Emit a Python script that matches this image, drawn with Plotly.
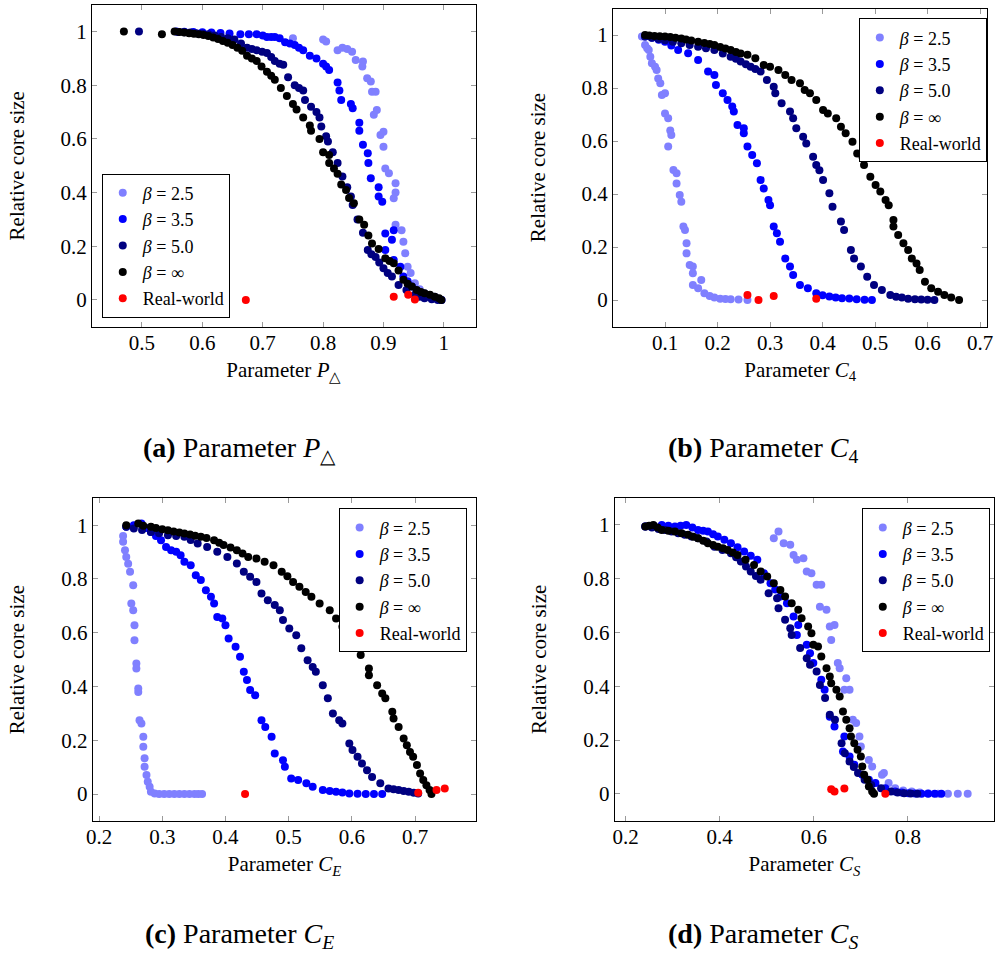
import plotly.graph_objects as go

# ---------------- data ----------------
SERIES = ["β = 2.5", "β = 3.5", "β = 5.0", "β = ∞", "Real-world"]

# Panel (a): parameter P_triangle
A_X_25 = [0.750, 0.800, 0.805, 0.824, 0.832, 0.840, 0.848, 0.854, 0.866, 0.865, 0.873, 0.879, 0.881, 0.887, 0.889, 0.884, 0.900, 0.895, 0.900, 0.903, 0.909, 0.920, 0.920, 0.917, 0.920, 0.930, 0.933, 0.936, 0.940, 0.945, 0.952, 0.960, 0.968, 0.976, 0.985, 0.996]
A_Y_25 = [0.975, 0.970, 0.963, 0.930, 0.940, 0.935, 0.925, 0.894, 0.888, 0.870, 0.826, 0.814, 0.776, 0.776, 0.708, 0.690, 0.627, 0.615, 0.571, 0.490, 0.472, 0.435, 0.400, 0.379, 0.280, 0.260, 0.217, 0.174, 0.124, 0.100, 0.062, 0.040, 0.025, 0.018, 0.012, 0.000]
A_X_35 = [0.557, 0.570, 0.585, 0.600, 0.615, 0.630, 0.645, 0.663, 0.677, 0.690, 0.700, 0.707, 0.714, 0.720, 0.728, 0.737, 0.745, 0.753, 0.760, 0.767, 0.778, 0.789, 0.800, 0.805, 0.810, 0.824, 0.827, 0.830, 0.846, 0.849, 0.860, 0.860, 0.866, 0.874, 0.875, 0.879, 0.892, 0.892, 0.898, 0.903, 0.917, 0.914, 0.903, 0.917, 0.928, 0.933, 0.940, 0.947, 0.955, 0.963, 0.972, 0.979, 0.988, 0.996]
A_Y_35 = [1.000, 0.999, 0.998, 0.997, 0.996, 0.995, 0.993, 0.990, 0.990, 0.990, 0.985, 0.980, 0.980, 0.980, 0.975, 0.960, 0.955, 0.950, 0.940, 0.930, 0.910, 0.900, 0.880, 0.870, 0.857, 0.810, 0.780, 0.745, 0.730, 0.714, 0.660, 0.630, 0.578, 0.547, 0.510, 0.453, 0.420, 0.385, 0.366, 0.248, 0.260, 0.224, 0.186, 0.149, 0.124, 0.087, 0.070, 0.050, 0.035, 0.025, 0.018, 0.012, 0.005, 0.000]
A_X_50 = [0.495, 0.560, 0.570, 0.580, 0.590, 0.600, 0.610, 0.620, 0.631, 0.642, 0.653, 0.664, 0.674, 0.682, 0.690, 0.699, 0.707, 0.714, 0.720, 0.728, 0.734, 0.742, 0.753, 0.760, 0.767, 0.770, 0.780, 0.789, 0.794, 0.797, 0.805, 0.808, 0.816, 0.824, 0.832, 0.840, 0.846, 0.849, 0.857, 0.866, 0.874, 0.880, 0.887, 0.893, 0.900, 0.907, 0.914, 0.925, 0.938, 0.952, 0.960, 0.968, 0.980, 0.990]
A_Y_50 = [1.000, 0.998, 0.997, 0.996, 0.994, 0.992, 0.990, 0.985, 0.980, 0.975, 0.970, 0.955, 0.940, 0.935, 0.930, 0.925, 0.920, 0.905, 0.890, 0.880, 0.876, 0.830, 0.800, 0.790, 0.780, 0.745, 0.720, 0.700, 0.680, 0.646, 0.610, 0.590, 0.550, 0.510, 0.460, 0.420, 0.385, 0.354, 0.300, 0.250, 0.186, 0.170, 0.160, 0.140, 0.118, 0.100, 0.087, 0.056, 0.037, 0.019, 0.012, 0.006, 0.003, 0.000]
A_X_INF = [0.470, 0.533, 0.554, 0.562, 0.570, 0.578, 0.586, 0.594, 0.602, 0.610, 0.618, 0.626, 0.634, 0.642, 0.650, 0.658, 0.666, 0.674, 0.682, 0.690, 0.698, 0.707, 0.714, 0.720, 0.730, 0.740, 0.750, 0.756, 0.767, 0.778, 0.780, 0.794, 0.800, 0.810, 0.810, 0.818, 0.824, 0.830, 0.838, 0.843, 0.851, 0.860, 0.868, 0.875, 0.881, 0.892, 0.903, 0.910, 0.917, 0.925, 0.933, 0.940, 0.947, 0.955, 0.962, 0.968, 0.977, 0.985, 0.992, 0.996]
A_Y_INF = [1.000, 0.990, 1.000, 0.998, 0.996, 0.994, 0.992, 0.990, 0.987, 0.983, 0.978, 0.972, 0.965, 0.958, 0.950, 0.940, 0.928, 0.910, 0.900, 0.890, 0.870, 0.850, 0.835, 0.820, 0.790, 0.760, 0.730, 0.710, 0.680, 0.650, 0.630, 0.600, 0.550, 0.540, 0.510, 0.490, 0.470, 0.430, 0.410, 0.380, 0.360, 0.300, 0.280, 0.240, 0.210, 0.190, 0.155, 0.145, 0.137, 0.110, 0.075, 0.060, 0.050, 0.037, 0.030, 0.025, 0.019, 0.012, 0.006, 0.000]
A_X_REAL = [0.672, 0.917, 0.941, 0.952]
A_Y_REAL = [0.000, 0.012, 0.019, 0.002]

# Panel (b): parameter C_4
B_X_25 = [0.056, 0.062, 0.066, 0.069, 0.072, 0.075, 0.081, 0.084, 0.087, 0.091, 0.094, 0.100, 0.100, 0.106, 0.112, 0.110, 0.106, 0.116, 0.122, 0.122, 0.128, 0.131, 0.135, 0.138, 0.141, 0.141, 0.147, 0.153, 0.153, 0.169, 0.153, 0.163, 0.175, 0.185, 0.194, 0.205, 0.215, 0.225, 0.240, 0.257]
B_Y_25 = [0.994, 0.962, 0.950, 0.943, 0.918, 0.893, 0.880, 0.868, 0.836, 0.818, 0.774, 0.780, 0.704, 0.686, 0.623, 0.640, 0.579, 0.491, 0.478, 0.440, 0.396, 0.371, 0.277, 0.264, 0.214, 0.176, 0.132, 0.126, 0.101, 0.075, 0.057, 0.044, 0.025, 0.015, 0.009, 0.005, 0.004, 0.003, 0.002, 0.000]
B_X_35 = [0.062, 0.075, 0.088, 0.100, 0.112, 0.125, 0.144, 0.163, 0.182, 0.194, 0.197, 0.210, 0.219, 0.228, 0.231, 0.238, 0.250, 0.250, 0.257, 0.266, 0.275, 0.282, 0.288, 0.297, 0.300, 0.307, 0.313, 0.319, 0.329, 0.338, 0.344, 0.357, 0.372, 0.388, 0.400, 0.413, 0.425, 0.437, 0.451, 0.465, 0.480, 0.494]
B_Y_35 = [0.994, 0.990, 0.982, 0.975, 0.960, 0.943, 0.931, 0.906, 0.862, 0.849, 0.811, 0.780, 0.755, 0.730, 0.711, 0.660, 0.648, 0.629, 0.579, 0.547, 0.516, 0.453, 0.421, 0.377, 0.358, 0.277, 0.252, 0.220, 0.157, 0.126, 0.094, 0.057, 0.044, 0.025, 0.018, 0.013, 0.009, 0.007, 0.006, 0.003, 0.001, 0.000]
B_X_50 = [0.062, 0.075, 0.088, 0.100, 0.115, 0.131, 0.147, 0.163, 0.178, 0.194, 0.210, 0.225, 0.235, 0.244, 0.254, 0.263, 0.272, 0.282, 0.294, 0.307, 0.310, 0.322, 0.338, 0.344, 0.350, 0.363, 0.369, 0.382, 0.388, 0.394, 0.401, 0.413, 0.419, 0.435, 0.441, 0.454, 0.460, 0.473, 0.485, 0.498, 0.513, 0.529, 0.540, 0.551, 0.563, 0.576, 0.588, 0.600, 0.613]
B_Y_50 = [0.994, 0.990, 0.985, 0.980, 0.975, 0.969, 0.962, 0.956, 0.950, 0.943, 0.930, 0.918, 0.910, 0.900, 0.890, 0.880, 0.872, 0.862, 0.830, 0.805, 0.780, 0.742, 0.711, 0.686, 0.648, 0.616, 0.591, 0.541, 0.509, 0.490, 0.453, 0.403, 0.352, 0.296, 0.264, 0.189, 0.157, 0.126, 0.088, 0.057, 0.038, 0.019, 0.012, 0.009, 0.005, 0.003, 0.002, 0.001, 0.000]
B_X_INF = [0.062, 0.070, 0.080, 0.090, 0.100, 0.110, 0.120, 0.131, 0.140, 0.150, 0.163, 0.175, 0.185, 0.194, 0.205, 0.215, 0.225, 0.235, 0.244, 0.257, 0.272, 0.288, 0.300, 0.316, 0.329, 0.341, 0.357, 0.366, 0.376, 0.388, 0.401, 0.410, 0.426, 0.435, 0.444, 0.457, 0.466, 0.476, 0.479, 0.491, 0.501, 0.510, 0.520, 0.526, 0.535, 0.535, 0.544, 0.554, 0.563, 0.570, 0.579, 0.585, 0.595, 0.607, 0.620, 0.632, 0.645, 0.660]
B_Y_INF = [1.000, 0.998, 0.996, 0.995, 0.994, 0.992, 0.990, 0.987, 0.983, 0.979, 0.975, 0.970, 0.966, 0.962, 0.955, 0.949, 0.943, 0.936, 0.930, 0.925, 0.912, 0.887, 0.880, 0.868, 0.849, 0.830, 0.818, 0.792, 0.780, 0.755, 0.717, 0.704, 0.686, 0.654, 0.629, 0.597, 0.553, 0.541, 0.509, 0.465, 0.434, 0.409, 0.377, 0.358, 0.302, 0.277, 0.245, 0.214, 0.189, 0.157, 0.138, 0.113, 0.069, 0.044, 0.031, 0.019, 0.009, 0.000]
B_X_REAL = [0.257, 0.278, 0.307, 0.388]
B_Y_REAL = [0.019, 0.000, 0.015, 0.005]

# Panel (c): parameter C_E
C_X_25 = [0.238, 0.238, 0.241, 0.243, 0.246, 0.249, 0.254, 0.251, 0.254, 0.256, 0.256, 0.259, 0.259, 0.262, 0.262, 0.264, 0.267, 0.270, 0.270, 0.272, 0.272, 0.275, 0.277, 0.280, 0.282, 0.288, 0.295, 0.303, 0.311, 0.319, 0.327, 0.335, 0.343, 0.351, 0.357, 0.363]
C_Y_25 = [0.960, 0.938, 0.907, 0.882, 0.857, 0.827, 0.777, 0.709, 0.684, 0.628, 0.572, 0.486, 0.467, 0.393, 0.380, 0.275, 0.263, 0.213, 0.176, 0.133, 0.102, 0.071, 0.046, 0.027, 0.009, 0.002, 0.000, 0.000, 0.000, 0.000, 0.000, 0.000, 0.000, 0.000, 0.000, 0.000]
C_X_35 = [0.243, 0.255, 0.267, 0.275, 0.282, 0.290, 0.298, 0.306, 0.314, 0.322, 0.329, 0.335, 0.345, 0.353, 0.361, 0.369, 0.377, 0.382, 0.387, 0.395, 0.400, 0.405, 0.416, 0.423, 0.429, 0.434, 0.439, 0.447, 0.457, 0.463, 0.473, 0.478, 0.491, 0.494, 0.504, 0.515, 0.528, 0.538, 0.554, 0.565, 0.575, 0.585, 0.596, 0.609, 0.622, 0.635, 0.648]
C_Y_35 = [0.994, 1.000, 1.006, 0.990, 0.975, 0.960, 0.944, 0.919, 0.907, 0.901, 0.888, 0.864, 0.851, 0.814, 0.796, 0.758, 0.734, 0.709, 0.659, 0.653, 0.628, 0.579, 0.548, 0.511, 0.455, 0.424, 0.387, 0.368, 0.275, 0.250, 0.213, 0.151, 0.126, 0.102, 0.058, 0.052, 0.040, 0.027, 0.015, 0.012, 0.009, 0.006, 0.002, 0.001, 0.000, 0.000, 0.000]
C_X_50 = [0.243, 0.255, 0.268, 0.282, 0.295, 0.309, 0.322, 0.335, 0.345, 0.356, 0.371, 0.387, 0.403, 0.418, 0.429, 0.439, 0.449, 0.457, 0.467, 0.478, 0.486, 0.491, 0.501, 0.512, 0.520, 0.530, 0.538, 0.543, 0.554, 0.562, 0.570, 0.580, 0.585, 0.596, 0.601, 0.609, 0.616, 0.624, 0.632, 0.645, 0.658, 0.666, 0.674, 0.682, 0.690, 0.698, 0.705]
C_Y_50 = [0.994, 0.988, 0.982, 0.975, 0.970, 0.963, 0.960, 0.957, 0.945, 0.932, 0.919, 0.901, 0.882, 0.858, 0.827, 0.808, 0.789, 0.746, 0.721, 0.703, 0.684, 0.647, 0.616, 0.591, 0.542, 0.498, 0.473, 0.455, 0.405, 0.356, 0.300, 0.275, 0.263, 0.188, 0.164, 0.139, 0.114, 0.089, 0.064, 0.040, 0.021, 0.018, 0.015, 0.012, 0.009, 0.005, 0.002]
C_X_INF = [0.243, 0.262, 0.270, 0.282, 0.290, 0.300, 0.309, 0.318, 0.327, 0.335, 0.344, 0.352, 0.361, 0.370, 0.382, 0.390, 0.397, 0.408, 0.418, 0.427, 0.436, 0.449, 0.462, 0.476, 0.489, 0.498, 0.507, 0.517, 0.527, 0.536, 0.549, 0.565, 0.575, 0.585, 0.595, 0.601, 0.607, 0.614, 0.627, 0.627, 0.640, 0.648, 0.653, 0.664, 0.666, 0.674, 0.682, 0.687, 0.692, 0.697, 0.703, 0.708, 0.713, 0.718, 0.723, 0.726]
C_Y_INF = [1.000, 1.006, 0.998, 0.994, 0.990, 0.985, 0.981, 0.977, 0.973, 0.969, 0.965, 0.961, 0.957, 0.952, 0.944, 0.935, 0.926, 0.917, 0.907, 0.895, 0.882, 0.876, 0.864, 0.851, 0.827, 0.810, 0.789, 0.771, 0.752, 0.734, 0.709, 0.684, 0.653, 0.622, 0.590, 0.560, 0.554, 0.517, 0.467, 0.442, 0.405, 0.374, 0.356, 0.306, 0.281, 0.250, 0.207, 0.182, 0.157, 0.139, 0.108, 0.077, 0.052, 0.033, 0.015, 0.000]
C_X_REAL = [0.431, 0.705, 0.734, 0.747]
C_Y_REAL = [0.000, 0.005, 0.015, 0.021]

# Panel (d): parameter C_S
D_X_25 = [0.515, 0.525, 0.536, 0.550, 0.557, 0.564, 0.578, 0.585, 0.595, 0.606, 0.616, 0.613, 0.627, 0.634, 0.644, 0.637, 0.651, 0.655, 0.669, 0.676, 0.665, 0.683, 0.690, 0.697, 0.700, 0.717, 0.724, 0.745, 0.749, 0.759, 0.773, 0.790, 0.808, 0.825, 0.843, 0.864, 0.885, 0.906, 0.927]
D_Y_25 = [0.950, 0.975, 0.932, 0.926, 0.888, 0.870, 0.876, 0.827, 0.820, 0.777, 0.777, 0.696, 0.684, 0.622, 0.628, 0.572, 0.486, 0.467, 0.430, 0.387, 0.387, 0.275, 0.263, 0.213, 0.176, 0.126, 0.102, 0.071, 0.077, 0.040, 0.021, 0.012, 0.009, 0.005, 0.002, 0.000, 0.000, 0.000, 0.000]
D_X_35 = [0.242, 0.260, 0.277, 0.291, 0.305, 0.317, 0.329, 0.342, 0.354, 0.365, 0.375, 0.386, 0.396, 0.410, 0.424, 0.438, 0.452, 0.466, 0.480, 0.494, 0.508, 0.518, 0.529, 0.543, 0.557, 0.567, 0.564, 0.585, 0.592, 0.599, 0.616, 0.623, 0.634, 0.644, 0.665, 0.662, 0.676, 0.686, 0.703, 0.717, 0.731, 0.752, 0.773, 0.787, 0.801, 0.815, 0.829, 0.843, 0.857, 0.871]
D_Y_35 = [0.994, 0.997, 1.000, 0.997, 0.994, 0.997, 1.000, 0.990, 0.981, 0.978, 0.975, 0.965, 0.957, 0.945, 0.932, 0.917, 0.901, 0.885, 0.870, 0.820, 0.783, 0.760, 0.734, 0.709, 0.659, 0.628, 0.591, 0.554, 0.523, 0.486, 0.424, 0.387, 0.287, 0.250, 0.213, 0.157, 0.139, 0.108, 0.071, 0.052, 0.040, 0.021, 0.009, 0.005, 0.002, 0.001, 0.000, 0.000, 0.000, 0.000]
D_X_50 = [0.242, 0.256, 0.270, 0.284, 0.298, 0.312, 0.326, 0.340, 0.354, 0.372, 0.389, 0.406, 0.424, 0.435, 0.445, 0.456, 0.466, 0.477, 0.487, 0.504, 0.522, 0.525, 0.539, 0.550, 0.553, 0.571, 0.585, 0.592, 0.606, 0.613, 0.624, 0.634, 0.645, 0.659, 0.666, 0.676, 0.685, 0.694, 0.708, 0.722, 0.743, 0.764, 0.778, 0.792, 0.806, 0.820]
D_Y_50 = [0.994, 0.990, 0.985, 0.981, 0.975, 0.969, 0.963, 0.957, 0.950, 0.938, 0.919, 0.907, 0.895, 0.880, 0.864, 0.845, 0.827, 0.810, 0.796, 0.746, 0.727, 0.690, 0.647, 0.616, 0.591, 0.542, 0.504, 0.480, 0.455, 0.405, 0.356, 0.294, 0.275, 0.188, 0.151, 0.120, 0.100, 0.077, 0.052, 0.033, 0.021, 0.009, 0.005, 0.002, 0.001, 0.000]
D_X_INF = [0.242, 0.250, 0.259, 0.268, 0.277, 0.291, 0.305, 0.319, 0.333, 0.344, 0.354, 0.365, 0.375, 0.386, 0.396, 0.407, 0.417, 0.428, 0.438, 0.455, 0.473, 0.487, 0.501, 0.515, 0.529, 0.539, 0.553, 0.567, 0.574, 0.588, 0.595, 0.599, 0.609, 0.616, 0.627, 0.634, 0.637, 0.648, 0.655, 0.662, 0.669, 0.676, 0.679, 0.686, 0.693, 0.700, 0.703, 0.707, 0.714, 0.717, 0.724, 0.728]
D_Y_INF = [0.994, 0.997, 1.000, 0.990, 0.981, 0.978, 0.975, 0.969, 0.963, 0.956, 0.950, 0.941, 0.932, 0.925, 0.919, 0.913, 0.907, 0.897, 0.888, 0.870, 0.851, 0.827, 0.808, 0.783, 0.758, 0.734, 0.709, 0.684, 0.653, 0.622, 0.597, 0.554, 0.548, 0.511, 0.467, 0.436, 0.411, 0.387, 0.362, 0.306, 0.275, 0.244, 0.213, 0.188, 0.164, 0.139, 0.102, 0.071, 0.052, 0.027, 0.009, 0.000]
D_X_REAL = [0.637, 0.644, 0.665, 0.752]
D_Y_REAL = [0.017, 0.009, 0.020, 0.000]

# tick labels
A_XTICKS = [0.5, 0.6, 0.7, 0.8, 0.9, 1.0]
A_XTEXT = ["0.5", "0.6", "0.7", "0.8", "0.9", "1"]
B_XTICKS = [0.1, 0.2, 0.3, 0.4, 0.5, 0.6, 0.7]
B_XTEXT = ["0.1", "0.2", "0.3", "0.4", "0.5", "0.6", "0.7"]
C_XTICKS = [0.2, 0.3, 0.4, 0.5, 0.6, 0.7]
C_XTEXT = ["0.2", "0.3", "0.4", "0.5", "0.6", "0.7"]
D_XTICKS = [0.2, 0.4, 0.6, 0.8]
D_XTEXT = ["0.2", "0.4", "0.6", "0.8"]
Y_TICKS = [0, 0.2, 0.4, 0.6, 0.8, 1.0]
Y_TEXT = ["0", "0.2", "0.4", "0.6", "0.8", "1"]

X_TITLES = ["Parameter <i>P</i><sub>△</sub>", "Parameter <i>C</i><sub>4</sub>",
            "Parameter <i>C</i><sub><i>E</i></sub>", "Parameter <i>C</i><sub><i>S</i></sub>"]
CAPTIONS = ["<b>(a)</b> Parameter <i>P</i><sub>△</sub>", "<b>(b)</b> Parameter <i>C</i><sub>4</sub>",
            "<b>(c)</b> Parameter <i>C</i><sub><i>E</i></sub>", "<b>(d)</b> Parameter <i>C</i><sub><i>S</i></sub>"]
Y_TITLE = "Relative core size"

# ---------------- styling ----------------
W, H = 1003, 959
FONT = "Liberation Serif, Times New Roman, serif"
COLORS = ["#8080ff", "#0000ff", "#000080", "#000000", "#ff0000"]
LEGEND_NAMES = ["<i>β</i> = 2.5", "<i>β</i> = 3.5", "<i>β</i> = 5.0", "<i>β</i> = ∞", "Real-world"]

panels = [
    dict(data=[(A_X_25, A_Y_25), (A_X_35, A_Y_35), (A_X_50, A_Y_50), (A_X_INF, A_Y_INF), (A_X_REAL, A_Y_REAL)],
         px=(86, 475), py=(4.7, 326.8), xr=[0.417, 1.053], ticks=(A_XTICKS, A_XTEXT),
         legend=dict(x=96, y=317.5, yanchor="bottom"), cap=(236, 449)),
    dict(data=[(B_X_25, B_Y_25), (B_X_35, B_Y_35), (B_X_50, B_Y_50), (B_X_INF, B_Y_INF), (B_X_REAL, B_Y_REAL)],
         px=(614, 993.3), py=(8.5, 326.5), xr=[0.001, 0.714], ticks=(B_XTICKS, B_XTEXT),
         legend=dict(x=863, y=18.3, yanchor="top"), cap=(766, 449)),
    dict(data=[(C_X_25, C_Y_25), (C_X_35, C_Y_35), (C_X_50, C_Y_50), (C_X_INF, C_Y_INF), (C_X_REAL, C_Y_REAL)],
         px=(86.7, 475.5), py=(498.3, 821), xr=[0.1897, 0.797], ticks=(C_XTICKS, C_XTEXT),
         legend=dict(x=336, y=508.3, yanchor="top"), cap=(236, 935)),
    dict(data=[(D_X_25, D_Y_25), (D_X_35, D_Y_35), (D_X_50, D_Y_50), (D_X_INF, D_Y_INF), (D_X_REAL, D_Y_REAL)],
         px=(615.7, 1000), py=(498, 820.7), xr=[0.177, 0.983], ticks=(D_XTICKS, D_XTEXT),
         legend=dict(x=866, y=508.3, yanchor="top"), cap=(766, 935)),
]

fig = go.Figure()
layout = dict(width=W, height=H, margin=dict(l=0, r=0, t=0, b=0),
              paper_bgcolor="white", plot_bgcolor="white",
              font=dict(family=FONT, size=20, color="black"), annotations=[])

for i, p in enumerate(panels):
    n = "" if i == 0 else str(i + 1)
    lg = "legend" + n
    for k, (xs, ys) in enumerate(p["data"]):
        fig.add_trace(go.Scatter(x=xs, y=ys, mode="markers", name=LEGEND_NAMES[k],
                                 marker=dict(color=COLORS[k], size=8, line=dict(width=0)),
                                 xaxis="x" + n, yaxis="y" + n, legend=lg, hoverinfo="x+y"))
    axcommon = dict(showline=True, linecolor="black", linewidth=1, mirror="ticks",
                    ticks="inside", ticklen=5, tickwidth=1, tickcolor="#9a9a9a",
                    showgrid=False, zeroline=False, tickfont=dict(family=FONT, size=21, color="black"))
    layout["xaxis" + n] = dict(axcommon, domain=[p["px"][0] / W, p["px"][1] / W], range=p["xr"],
                               anchor="y" + n, tickmode="array", tickvals=p["ticks"][0], ticktext=p["ticks"][1],
                               ticklabelstandoff=-3,
                               title=dict(text=X_TITLES[i], font=dict(family=FONT, size=21, color="black"), standoff=8))
    layout["yaxis" + n] = dict(axcommon, domain=[1 - p["py"][1] / H, 1 - p["py"][0] / H], range=[-0.1, 1.1],
                               anchor="x" + n, tickmode="array", tickvals=Y_TICKS, ticktext=Y_TEXT,
                               title=dict(text=Y_TITLE, font=dict(family=FONT, size=21, color="black"), standoff=30))
    L = p["legend"]
    layout[lg] = dict(x=L["x"] / W, y=1 - L["y"] / H, xanchor="left", yanchor=L["yanchor"],
                      xref="paper", yref="paper", bgcolor="white", bordercolor="black", borderwidth=1,
                      font=dict(family=FONT, size=18, color="black"), itemwidth=30, tracegroupgap=0)
    layout["annotations"].append(dict(text=CAPTIONS[i], x=p["cap"][0] / W, y=1 - p["cap"][1] / H,
                                      xref="paper", yref="paper", showarrow=False,
                                      xanchor="center", yanchor="middle",
                                      font=dict(family=FONT, size=28, color="black")))

fig.update_layout(**layout)
fig.write_html("out.html", config={"displayModeBar": False},
               post_script="document.body.style.margin='0px';document.body.style.overflow='hidden';")
